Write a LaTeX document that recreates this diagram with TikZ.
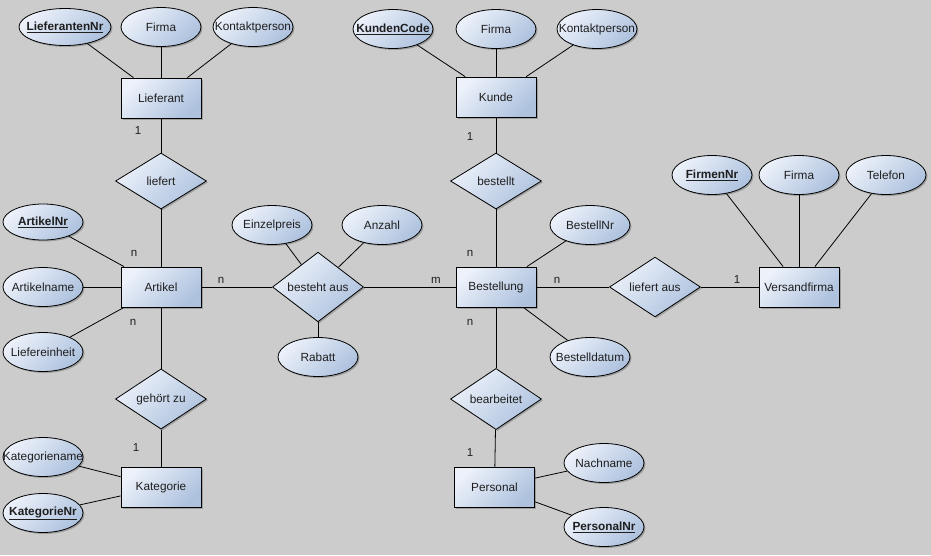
\documentclass[tikz,border=0pt]{standalone}
\usepackage{fontspec}
\setmainfont{Liberation Sans}
\usetikzlibrary{shapes.geometric,shadows}
\definecolor{bg}{RGB}{204,204,204}
\definecolor{lightfill}{RGB}{236,241,250}
\definecolor{darkfill}{RGB}{174,194,222}
\definecolor{txt}{RGB}{30,30,30}
\tikzset{
  base/.style={draw=black, line width=0.8pt, top color=lightfill, bottom color=darkfill, shading angle=45,
    drop shadow={shadow xshift=1.5pt, shadow yshift=-1.5pt, fill=black, opacity=0.22},
    inner sep=0pt, text=txt, font=\fontsize{11.8}{13}\selectfont},
  entity/.style={base, rectangle, minimum width=80pt, minimum height=40pt},
  attr/.style={base, ellipse, minimum width=80pt, minimum height=39pt},
  rel/.style={base, diamond, minimum width=91pt, minimum height=56pt},
  card/.style={text=txt, font=\fontsize{11.5}{13}\selectfont, inner sep=0pt},
  link/.style={draw=black, line width=0.8pt},
}
\newcommand{\attxt}[1]{\makebox[0pt][c]{#1}}
\newcommand{\keyattr}[1]{\makebox[0pt][c]{\underline{\textbf{#1}}}}
\begin{document}
\begin{tikzpicture}[x=1pt,y=-1pt]
\fill[bg] (0,0) rectangle (931,555);
\useasboundingbox (0,0) rectangle (931,555);
% entities
\node[entity] (lief) at (161,98) {Lieferant};
\node[entity] (kunde) at (496,97) {Kunde};
\node[entity] (art) at (161,287) {Artikel};
\node[entity] (best) at (496,287) {Bestellung};
\node[entity] (vers) at (799,287) {Versandfirma};
\node[entity] (kat) at (161,487) {Kategorie};
\node[entity] (pers) at (494.5,487) {Personal};
% relationships
\node[rel] (liefert) at (161,181) {liefert};
\node[rel] (bestellt) at (496,181) {bestellt};
\node[rel] (besteht) at (318,287) {besteht aus};
\node[rel] (liefaus) at (655,287) {liefert aus};
\node[rel] (gehoert) at (161,399) {gehört zu};
\node[rel] (bearb) at (496,399) {bearbeitet};
% attributes
\node[attr, minimum width=92pt, minimum height=37pt] (lnr) at (65,27) {\keyattr{LieferantenNr}};
\node[attr] (lfirma) at (161,27) {\attxt{Firma}};
\node[attr] (lkontakt) at (253,27) {\attxt{Kontaktperson}};
\node[attr] (kcode) at (393,29) {\keyattr{KundenCode}};
\node[attr] (kfirma) at (496,29) {\attxt{Firma}};
\node[attr] (kkontakt) at (597,29) {\attxt{Kontaktperson}};
\node[attr] (fnr) at (712,175) {\keyattr{FirmenNr}};
\node[attr] (vfirma) at (799,175) {\attxt{Firma}};
\node[attr] (vtel) at (886,175) {\attxt{Telefon}};
\node[attr, minimum height=36pt] (anr) at (43,222) {\keyattr{ArtikelNr}};
\node[attr] (aname) at (43,287) {\attxt{Artikelname}};
\node[attr] (aeinheit) at (43,352) {\attxt{Liefereinheit}};
\node[attr] (epreis) at (272,225) {\attxt{Einzelpreis}};
\node[attr] (anzahl) at (382,225) {\attxt{Anzahl}};
\node[attr] (rabatt) at (318,357) {\attxt{Rabatt}};
\node[attr] (bnr) at (590,225) {\attxt{BestellNr}};
\node[attr] (bdatum) at (590,357) {\attxt{Bestelldatum}};
\node[attr] (kname) at (43,457) {\attxt{Kategoriename}};
\node[attr] (knr) at (43,513) {\keyattr{KategorieNr}};
\node[attr] (nname) at (604,463) {\attxt{Nachname}};
\node[attr] (pnr) at (604,527) {\keyattr{PersonalNr}};
% connectors
\path[link] (lnr) -- (lief);
\path[link] (lfirma) -- (lief);
\path[link] (lkontakt) -- (lief);
\path[link] (kcode) -- (kunde);
\path[link] (kfirma) -- (kunde);
\path[link] (kkontakt) -- (kunde);
\path[link] (fnr) -- (vers);
\path[link] (vfirma) -- (vers);
\path[link] (vtel) -- (vers);
\path[link] (anr) -- (art);
\path[link] (aname) -- (art);
\path[link] (aeinheit) -- (art);
\path[link] (epreis) -- (besteht);
\path[link] (anzahl) -- (besteht);
\path[link] (rabatt) -- (besteht);
\path[link] (bnr) -- (best);
\path[link] (bdatum) -- (best);
\path[link] (kname) -- (kat);
\path[link] (knr) -- (kat);
\path[link] (nname) -- (pers);
\path[link] (pnr) -- (pers);
\path[link] (lief) -- (liefert);
\path[link] (liefert) -- (art);
\path[link] (art) -- (gehoert);
\path[link] (gehoert) -- (kat);
\path[link] (art) -- (besteht);
\path[link] (besteht) -- (best);
\path[link] (kunde) -- (bestellt);
\path[link] (bestellt) -- (best);
\path[link] (best) -- (bearb);
\path[link] (bearb) -- (pers);
\path[link] (best) -- (liefaus);
\path[link] (liefaus) -- (vers);
% cardinalities
\node[card] (c1) at (138,131) {1};
\node[card] (c2) at (134,253) {n};
\node[card] (c3) at (221,280) {n};
\node[card] (c4) at (133,322) {n};
\node[card] (c5) at (136,448) {1};
\node[card] (c6) at (470,137) {1};
\node[card] (c7) at (470,253) {n};
\node[card] (c8) at (436,280) {m};
\node[card] (c9) at (557,280) {n};
\node[card] (c10) at (470,322) {n};
\node[card] (c11) at (470,453) {1};
\node[card] (c12) at (737,280) {1};
\end{tikzpicture}
\end{document}
